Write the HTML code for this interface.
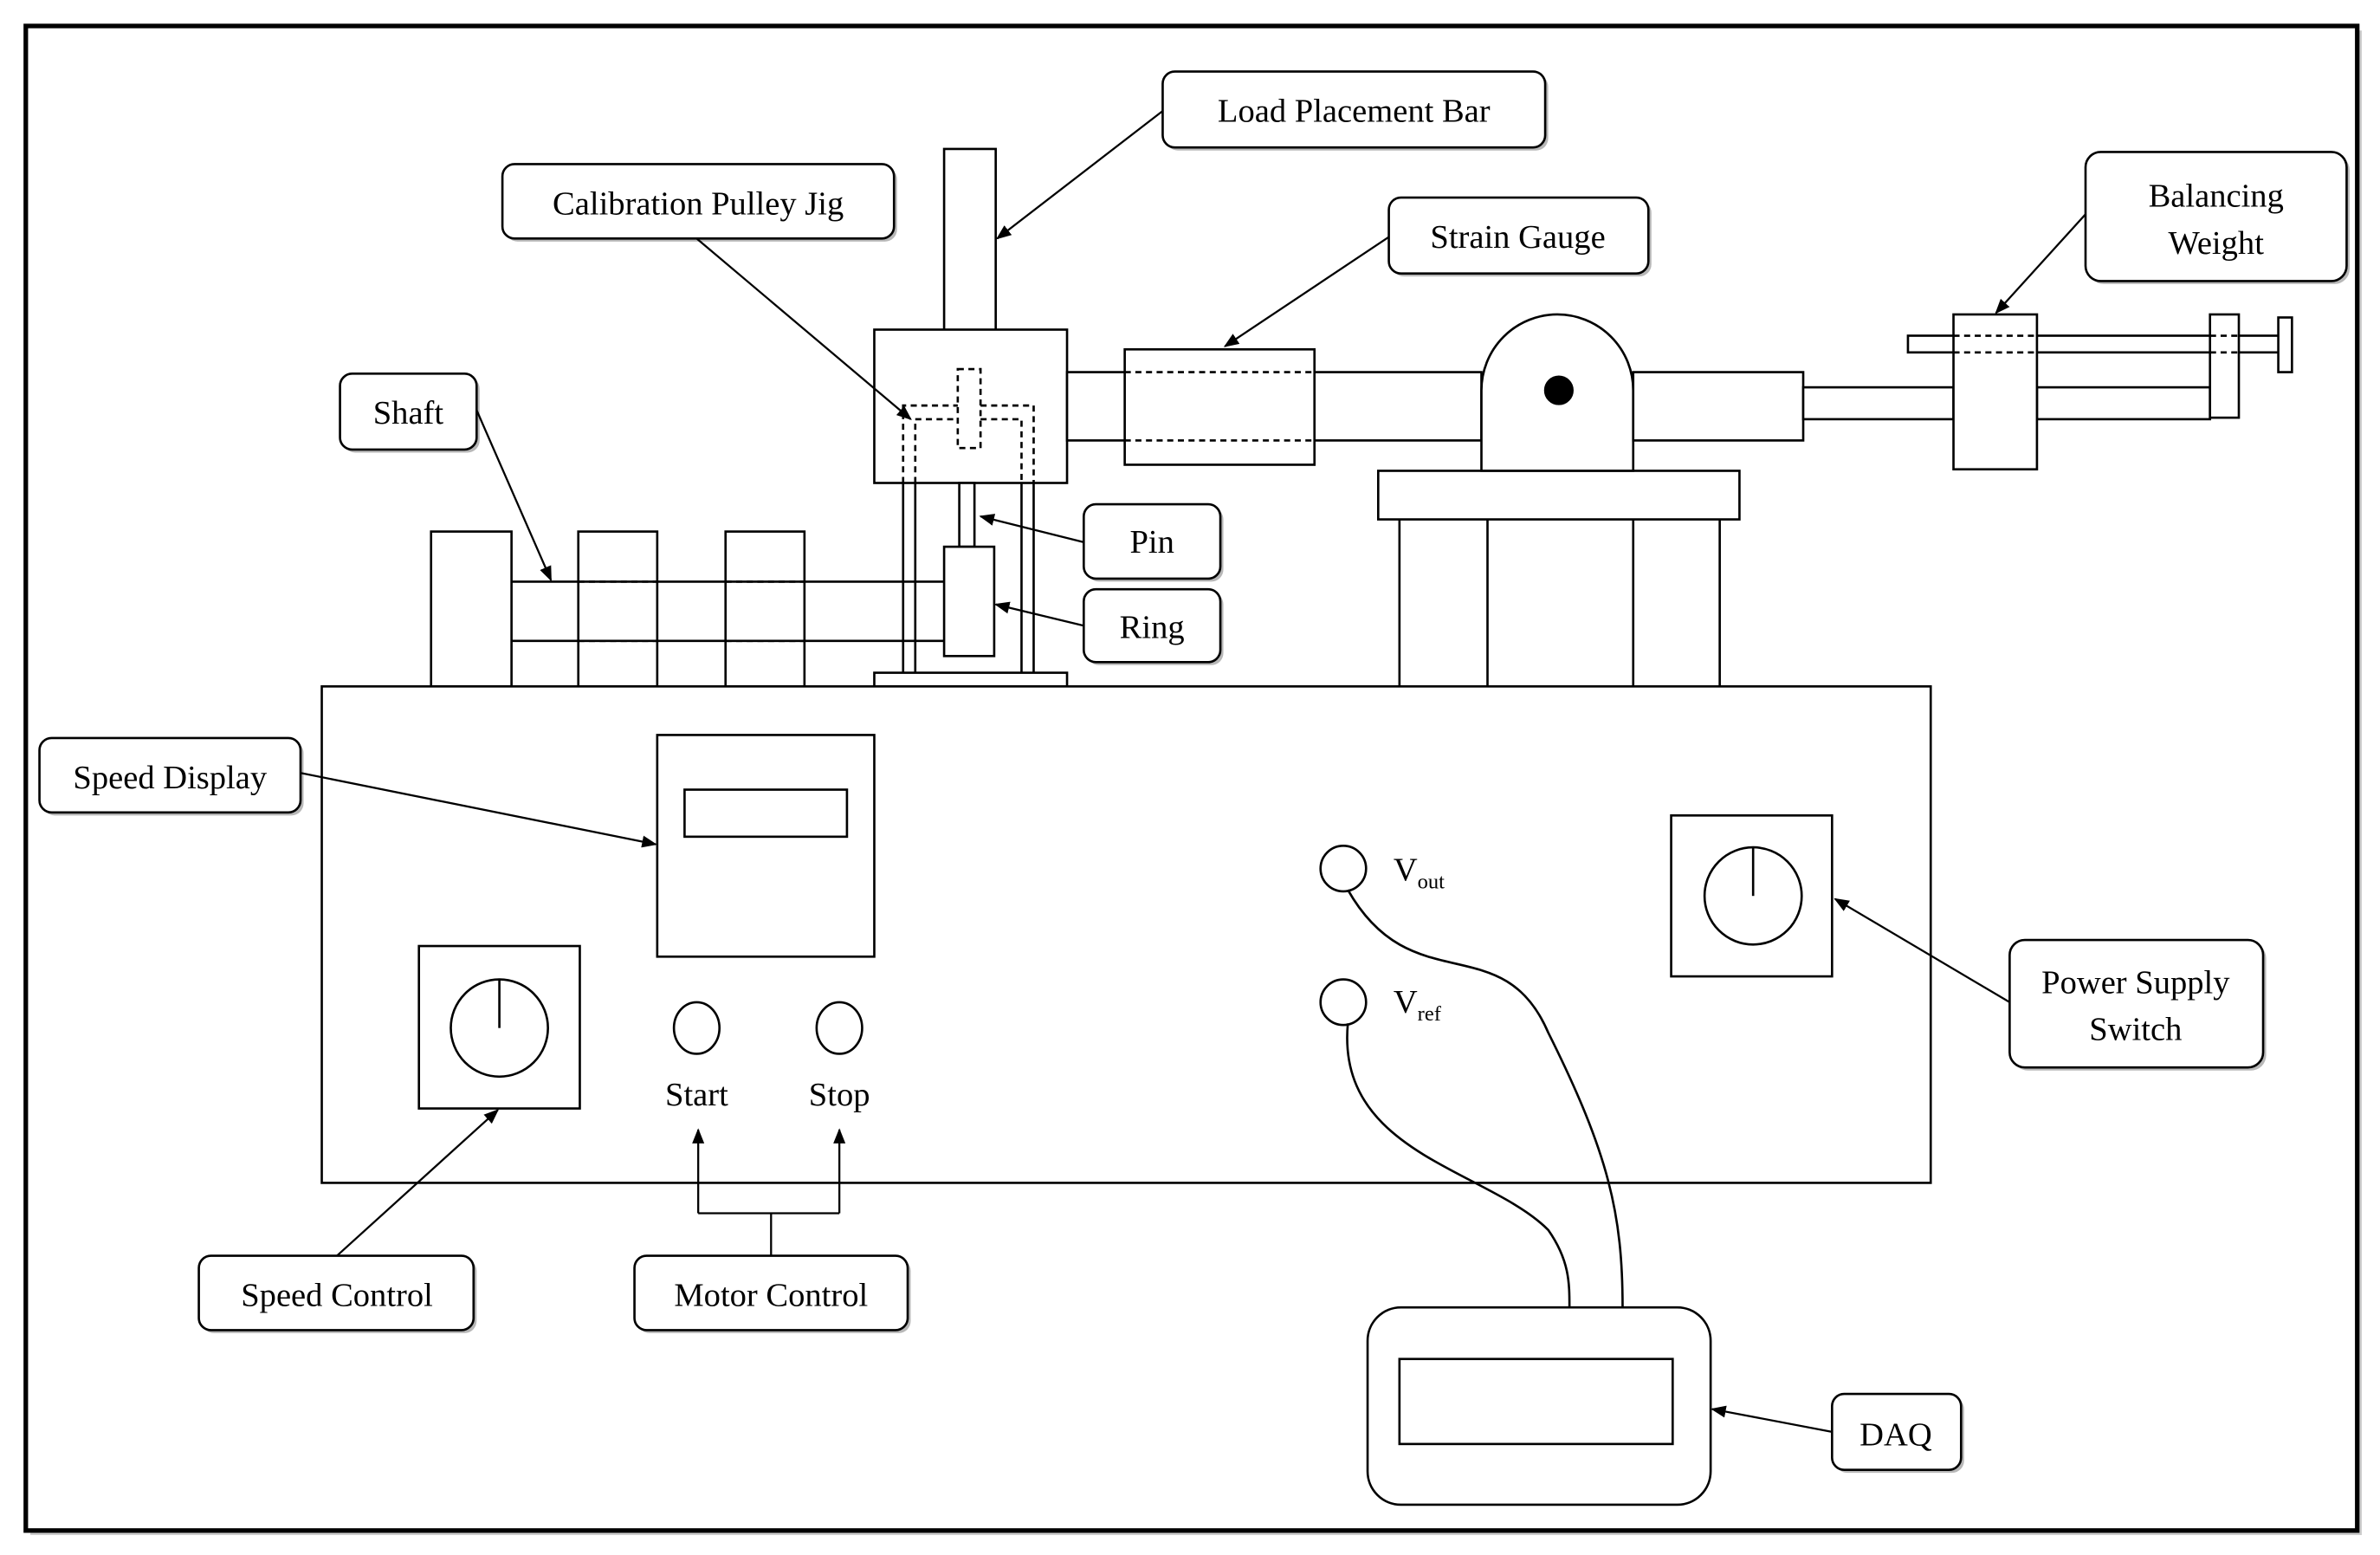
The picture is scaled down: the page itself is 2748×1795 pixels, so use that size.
<!DOCTYPE html>
<html><head><meta charset="utf-8"><style>
html,body{margin:0;padding:0;background:#fff;}
svg{display:block;}
text{font-family:"Liberation Serif",serif;font-size:22px;fill:#000;}
</style></head><body>
<svg width="2748" height="1795" viewBox="0 0 1568 1024" xmlns="http://www.w3.org/2000/svg">
<defs>
<marker id="a" markerWidth="10" markerHeight="10" refX="9" refY="5" orient="auto" markerUnits="userSpaceOnUse">
<path d="M0,1 L10,5 L0,9 Z" fill="#000"/></marker>
</defs>
<rect x="0" y="0" width="1568" height="1024" fill="#fff"/>
<rect x="20" y="20" width="1536" height="991" fill="#999" opacity="0.5"/>
<rect x="17" y="17" width="1536" height="991" fill="#fff" stroke="#000" stroke-width="3"/>
<g fill="#fff" stroke="#000" stroke-width="1.5">
<!-- shaft supports -->
<rect x="284" y="350" width="53" height="102"/>
<rect x="381" y="350" width="52" height="102"/>
<rect x="478" y="350" width="52" height="102"/>
<line x1="337" y1="383" x2="622" y2="383"/><line x1="337" y1="422" x2="622" y2="422"/>
<g stroke-dasharray="4,3"><line x1="381" y1="383" x2="433" y2="383"/><line x1="381" y1="422" x2="433" y2="422"/><line x1="478" y1="383" x2="530" y2="383"/><line x1="478" y1="422" x2="530" y2="422"/></g>
<!-- load bar & jig -->
<rect x="622" y="98" width="34" height="120"/>
<rect x="576" y="217" width="127" height="101"/>
<line x1="595" y1="318" x2="595" y2="443"/><line x1="603" y1="318" x2="603" y2="443"/>
<line x1="673" y1="318" x2="673" y2="443"/><line x1="681" y1="318" x2="681" y2="443"/>
<rect x="632" y="318" width="10" height="42"/>
<rect x="622" y="360" width="33" height="72"/>
<g fill="none" stroke-dasharray="4,3"><rect x="631" y="243" width="15" height="52"/>
<polyline points="595,318 595,267 631,267"/><polyline points="646,267 681,267 681,318"/>
<polyline points="603,318 603,276 631,276"/><polyline points="646,276 673,276 673,318"/></g>
<rect x="576" y="443" width="127" height="9"/>
<!-- arm -->
<rect x="703" y="245" width="273" height="45"/>
<rect x="741" y="230" width="125" height="76"/>
<g stroke-dasharray="4,3"><line x1="741" y1="245" x2="866" y2="245"/><line x1="741" y1="290" x2="866" y2="290"/></g>
<!-- table -->
<line x1="922" y1="342" x2="922" y2="452"/><line x1="980" y1="342" x2="980" y2="452"/>
<line x1="1076" y1="342" x2="1076" y2="452"/><line x1="1133" y1="342" x2="1133" y2="452"/>
<rect x="908" y="310" width="238" height="32"/>
<path d="M976,310 L976,257 A50,50 0 0 1 1076,257 L1076,310 Z"/>
<circle cx="1027" cy="257" r="9" fill="#000"/>
<rect x="1076" y="245" width="112" height="45"/>
<rect x="1188" y="255" width="99" height="21"/>
<rect x="1342" y="255" width="114" height="21"/>
<rect x="1257" y="221" width="245" height="11"/>
<rect x="1287" y="207" width="55" height="102"/>
<rect x="1456" y="207" width="19" height="68"/>
<g stroke-dasharray="4,3"><line x1="1287" y1="221" x2="1342" y2="221"/><line x1="1287" y1="232" x2="1342" y2="232"/><line x1="1456" y1="221" x2="1475" y2="221"/><line x1="1456" y1="232" x2="1475" y2="232"/></g>
<rect x="1501" y="209" width="9" height="36"/>
<!-- main box -->
<rect x="212" y="452" width="1060" height="327"/>
<rect x="433" y="484" width="143" height="146"/>
<rect x="451" y="520" width="107" height="31"/>
<rect x="276" y="623" width="106" height="107"/>
<circle cx="329" cy="677" r="32"/><line x1="329" y1="677" x2="329" y2="645"/>
<ellipse cx="459" cy="677" rx="15" ry="17"/><ellipse cx="553" cy="677" rx="15" ry="17"/>
<circle cx="885" cy="572" r="15"/><circle cx="885" cy="660" r="15"/>
<rect x="1101" y="537" width="106" height="106"/>
<circle cx="1155" cy="590" r="32"/><line x1="1155" y1="590" x2="1155" y2="558"/>
<rect x="901" y="861" width="226" height="130" rx="22"/>
<rect x="922" y="895" width="180" height="56"/>
<path d="M888,586 C930,660 990,610 1020,680 C1060,760 1069,800 1069,861" fill="none"/>
<path d="M888,674 C880,760 980,770 1020,810 C1034,830 1034,845 1034,861" fill="none"/>
</g>
<!-- label boxes -->
<g fill="#888" opacity="0.6">
<rect x="768" y="49" width="252" height="50" rx="8"/>
<rect x="333" y="110" width="258" height="49" rx="8"/>
<rect x="917" y="132" width="171" height="50" rx="8"/>
<rect x="1376" y="102" width="172" height="85" rx="10"/>
<rect x="226" y="248" width="90" height="50" rx="8"/>
<rect x="716" y="334" width="90" height="49" rx="8"/>
<rect x="716" y="390" width="90" height="48" rx="8"/>
<rect x="28" y="488" width="172" height="49" rx="8"/>
<rect x="133" y="829" width="181" height="49" rx="8"/>
<rect x="420" y="829" width="180" height="49" rx="8"/>
<rect x="1326" y="621" width="167" height="84" rx="10"/>
<rect x="1209" y="920" width="85" height="50" rx="8"/>
</g>
<g fill="#fff" stroke="#000" stroke-width="1.5">
<rect x="766" y="47" width="252" height="50" rx="8"/>
<rect x="331" y="108" width="258" height="49" rx="8"/>
<rect x="915" y="130" width="171" height="50" rx="8"/>
<rect x="1374" y="100" width="172" height="85" rx="10"/>
<rect x="224" y="246" width="90" height="50" rx="8"/>
<rect x="714" y="332" width="90" height="49" rx="8"/>
<rect x="714" y="388" width="90" height="48" rx="8"/>
<rect x="26" y="486" width="172" height="49" rx="8"/>
<rect x="131" y="827" width="181" height="49" rx="8"/>
<rect x="418" y="827" width="180" height="49" rx="8"/>
<rect x="1324" y="619" width="167" height="84" rx="10"/>
<rect x="1207" y="918" width="85" height="50" rx="8"/>
</g>
<g stroke="#000" stroke-width="1.3" fill="none" marker-end="url(#a)">
<line x1="766" y1="73" x2="657" y2="157"/>
<line x1="459" y1="157" x2="600" y2="276"/>
<line x1="915" y1="156" x2="807" y2="228"/>
<line x1="1374" y1="141" x2="1315" y2="206"/>
<line x1="314" y1="270" x2="363" y2="382"/>
<line x1="714" y1="357" x2="646" y2="340"/>
<line x1="714" y1="412" x2="656" y2="398"/>
<line x1="198" y1="509" x2="432" y2="556"/>
<line x1="222" y1="827" x2="328" y2="731"/>
<line x1="1324" y1="660" x2="1209" y2="592"/>
<line x1="1207" y1="943" x2="1128" y2="928"/>
<polyline points="460,799 460,744"/>
<polyline points="553,799 553,744"/>
</g>
<polyline points="508,827 508,799" fill="none" stroke="#000" stroke-width="1.3"/>
<polyline points="460,799 553,799" fill="none" stroke="#000" stroke-width="1.3"/>
<g text-anchor="middle">
<text x="892" y="80">Load Placement Bar</text>
<text x="460" y="141">Calibration Pulley Jig</text>
<text x="1000" y="163">Strain Gauge</text>
<text x="1460" y="136">Balancing</text>
<text x="1460" y="167">Weight</text>
<text x="269" y="279">Shaft</text>
<text x="759" y="364">Pin</text>
<text x="759" y="420">Ring</text>
<text x="112" y="519">Speed Display</text>
<text x="222" y="860">Speed Control</text>
<text x="508" y="860">Motor Control</text>
<text x="1407" y="654">Power Supply</text>
<text x="1407" y="685">Switch</text>
<text x="1249" y="952">DAQ</text>
<text x="459" y="728">Start</text>
<text x="553" y="728">Stop</text>
</g>
<text x="918" y="580">V<tspan font-size="14" dy="5">out</tspan></text>
<text x="918" y="667">V<tspan font-size="14" dy="5">ref</tspan></text>
</svg>
</body></html>
